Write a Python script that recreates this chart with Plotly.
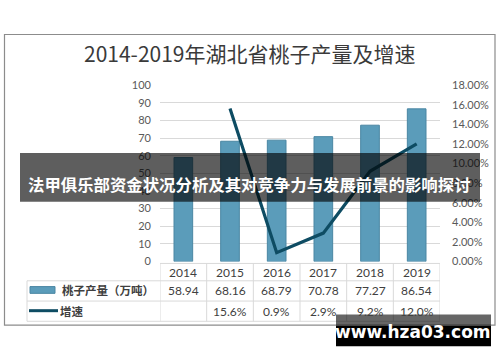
import plotly.graph_objects as go

years = ["2014", "2015", "2016", "2017", "2018", "2019"]
output = [58.94, 68.16, 68.79, 70.78, 77.27, 86.54]
growth_years = ["2015", "2016", "2017", "2018", "2019"]
growth = [0.156, 0.009, 0.029, 0.092, 0.120]
growth_labels = ["", "15.6%", "0.9%", "2.9%", "9.2%", "12.0%"]
output_labels = ["58.94", "68.16", "68.79", "70.78", "77.27", "86.54"]

title_text = "2014-2019年湖北省桃子产量及增速"
banner_text = "法甲俱乐部资金状况分析及其对竞争力与发展前景的影响探讨"
series1_name = "桃子产量（万吨）"
series2_name = "增速"
watermark = "www.hza03.com"

W, H = 500, 362


def px(x):
    return x / W


def py(y):
    return 1 - y / H


BAR_COLOR = "#5b9cba"
LINE_COLOR = "#0e4c63"
GRID = "#d9d9d9"
TXT = "#404040"
FONT = "Lato, Noto Sans CJK SC, sans-serif"
CJK = "Noto Sans CJK SC, sans-serif"

fig = go.Figure()
fig.add_trace(go.Bar(
    x=years, y=output, name=series1_name, width=0.4,
    marker=dict(color=BAR_COLOR, line=dict(color="#4a86a3", width=1)),
))
fig.add_trace(go.Scatter(
    x=growth_years, y=growth, name=series2_name, yaxis="y2", mode="lines",
    line=dict(color=LINE_COLOR, width=3.2),
))

shapes = []
ann = []

# outer frame
shapes.append(dict(type="rect", xref="paper", yref="paper",
                   x0=px(4.5), x1=px(495), y0=py(330), y1=py(28.5),
                   line=dict(color="#8c8c8c", width=1.2), fillcolor="rgba(0,0,0,0)", layer="below"))

# table lines
tl = dict(color=GRID, width=1)
row_y = [266, 284, 305, 326]
for i, yy in enumerate(row_y):
    x0 = 160 if i == 0 else 27
    shapes.append(dict(type="line", xref="paper", yref="paper",
                       x0=px(x0), x1=px(440), y0=py(yy), y1=py(yy), line=tl, layer="below"))
shapes.append(dict(type="line", xref="paper", yref="paper",
                   x0=px(27), x1=px(27), y0=py(284), y1=py(326), line=tl, layer="below"))
for k in range(len(years) + 1):
    shapes.append(dict(type="line", xref="x", yref="paper",
                       x0=k - 0.5, x1=k - 0.5, y0=py(266), y1=py(326), line=tl, layer="below"))

# legend keys in table
shapes.append(dict(type="rect", xref="paper", yref="paper",
                   x0=px(30), x1=px(55), y0=py(297), y1=py(290),
                   fillcolor=BAR_COLOR, line=dict(color="#4a86a3", width=1), layer="below"))
shapes.append(dict(type="line", xref="paper", yref="paper",
                   x0=px(29), x1=px(58), y0=py(315), y1=py(315),
                   line=dict(color=LINE_COLOR, width=3), layer="below"))

ann.append(dict(text="<b>" + series1_name + "</b>", xref="paper", yref="paper",
                x=px(60), y=py(294), xanchor="left", yanchor="middle", showarrow=False,
                font=dict(family=CJK, size=11.5, color=TXT)))
ann.append(dict(text="<b>" + series2_name + "</b>", xref="paper", yref="paper",
                x=px(58), y=py(315), xanchor="left", yanchor="middle", showarrow=False,
                font=dict(family=CJK, size=11.5, color=TXT)))

for i, yr in enumerate(years):
    ann.append(dict(text=yr, xref="x", yref="paper", x=i, y=py(275), showarrow=False,
                    xanchor="center", yanchor="middle", font=dict(family=FONT, size=12, color=TXT)))
    ann.append(dict(text=output_labels[i], xref="x", yref="paper", x=i, y=py(294), showarrow=False,
                    xanchor="center", yanchor="middle", font=dict(family=FONT, size=12, color=TXT)))
    if growth_labels[i]:
        ann.append(dict(text=growth_labels[i], xref="x", yref="paper", x=i, y=py(315.5), showarrow=False,
                        xanchor="center", yanchor="middle", font=dict(family=FONT, size=12, color=TXT)))

# title
ann.append(dict(text=title_text, xref="paper", yref="paper", x=0.5, y=py(48), showarrow=False,
                xanchor="center", yanchor="middle",
                font=dict(family="Noto Sans CJK SC", size=21, color="#3a3a3a")))

# banner overlay
shapes.append(dict(type="rect", xref="paper", yref="paper",
                   x0=px(20), x1=px(480), y0=py(202), y1=py(151.5),
                   fillcolor="rgba(0,0,0,0.63)", line=dict(width=0), layer="above"))
ann.append(dict(text="<b>" + banner_text + "</b>", xref="paper", yref="paper", x=px(249), y=py(184),
                showarrow=False, xanchor="center", yanchor="middle",
                font=dict(family=CJK, size=16.4, color="white")))

# watermark
shapes.append(dict(type="rect", xref="paper", yref="paper",
                   x0=px(336), x1=px(491), y0=py(331), y1=py(319),
                   fillcolor="rgba(0,0,0,0.6)", line=dict(width=0), layer="above"))
shapes.append(dict(type="rect", xref="paper", yref="paper",
                   x0=px(336), x1=px(491), y0=py(352), y1=py(331),
                   fillcolor="black", line=dict(width=0), layer="above"))
ann.append(dict(text="<b>" + watermark + "</b>", xref="paper", yref="paper", x=px(413), y=py(337),
                showarrow=False, xanchor="center", yanchor="middle",
                font=dict(family="DejaVu Sans, sans-serif", size=17, color="white")))

fig.update_layout(
    width=W, height=H,
    margin=dict(l=0, r=0, t=0, b=0),
    paper_bgcolor="white", plot_bgcolor="white",
    showlegend=False,
    bargap=0.6,
    xaxis=dict(type="category", domain=[px(160), px(440)], range=[-0.5, 5.5],
               showticklabels=False, showgrid=False, zeroline=False, showline=False, ticks=""),
    yaxis=dict(domain=[py(264), py(81)], range=[0, 100], dtick=10, showgrid=True,
               gridcolor=GRID, gridwidth=1, zeroline=False, showline=False, ticks="",
               tickfont=dict(family=FONT, size=11, color="#595959"), ticklabelstandoff=8),
    yaxis2=dict(overlaying="y", side="right", range=[0, 0.18], dtick=0.02, tickformat=".2%",
                showgrid=False, zeroline=False, showline=False, ticks="",
                tickfont=dict(family=FONT, size=11, color="#595959"), ticklabelstandoff=11),
    shapes=shapes,
    annotations=ann,
)

fig.write_html("out.html", config={"displayModeBar": False},
               post_script="document.body.style.margin='0';document.body.style.overflow='hidden';")
